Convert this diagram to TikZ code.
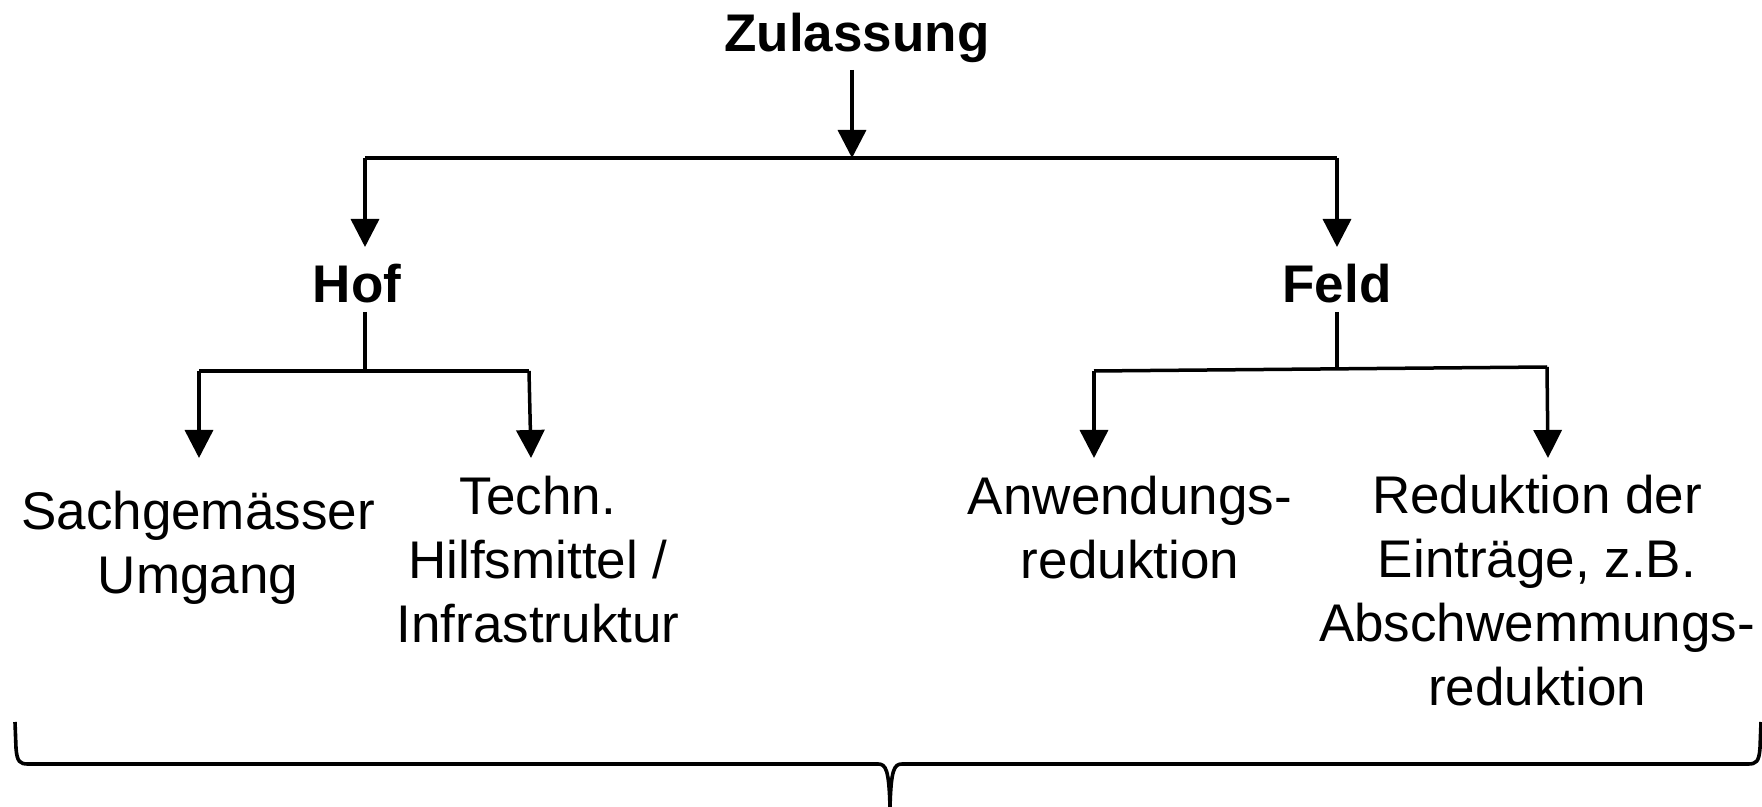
\documentclass[tikz,border=0pt]{standalone}
\usepackage{fontspec}
\setmainfont{Liberation Sans}
\usetikzlibrary{arrows.meta}
\begin{document}
\begin{tikzpicture}[x=0.5pt,y=-0.5pt,
  lbl/.style={anchor=base,inner sep=0pt,align=center,
    font=\fontsize{26.5pt}{32pt}\selectfont},
  head/.style={lbl,font=\fontsize{26.5pt}{32pt}\selectfont\bfseries},
  link/.style={line width=1.75pt},
  arr/.style={link,-{Triangle[width=14pt,length=14pt]}},
  brace/.style={line width=1.8pt,line join=round}]
\useasboundingbox (0,0) rectangle (1762,807);

% labels (base anchor = baseline of the last line)
\node[head] (zul)  at (857,52)  {Zulassung};
\node[head] (hof)  at (357,303) {Hof};
\node[head] (feld) at (1337,303) {Feld};
\node[lbl] (sach) at (198,593) {Sachgemässer\\Umgang};
\node[lbl] (tech) at (538,642) {Techn.\\Hilfsmittel /\\Infrastruktur};
\node[lbl] (anw)  at (1130,578) {Anwendungs-\\reduktion};
\node[lbl] (red)  at (1537,705) {Reduktion der\\Einträge, z.B.\\Abschwemmungs-\\reduktion};

% branch points
\coordinate (zA) at (852,70);
\coordinate (zB) at (852,158);
\coordinate (tL) at (365,158);
\coordinate (tR) at (1337,158);
\coordinate (hofTip) at (365,247);
\coordinate (feldTip) at (1337,247);
\coordinate (hA) at (365,312);
\coordinate (hB) at (365,371);
\coordinate (hL) at (199,371);
\coordinate (hR) at (529,371);
\coordinate (sachTip) at (199,458);
\coordinate (techTip) at (531,458);
\coordinate (fA) at (1337,312);
\coordinate (fB) at (1337,369);
\coordinate (fL) at (1094,371);
\coordinate (fR) at (1547,367);
\coordinate (anwTip) at (1094,458);
\coordinate (redTip) at (1548,458);

% first level
\draw[arr] (zA) -- (zB);
\draw[link] (tL) -- (tR);
\draw[arr] (tL) -- (hofTip);
\draw[arr] (tR) -- (feldTip);

% Hof branch
\draw[link] (hA) -- (hB);
\draw[link] (hL) -- (hR);
\draw[arr] (hL) -- (sachTip);
\draw[arr] (hR) -- (techTip);

% Feld branch
\draw[link] (fA) -- (fB);
\draw[link] (fL) -- (fR);
\draw[arr] (fL) -- (anwTip);
\draw[arr] (fR) -- (redTip);

% brace under all measures
\draw[brace] (15,722) -- (16,748) .. controls (17,762) and (20,764) .. (28,764)
  -- (878,764) .. controls (886,764) and (889,770) .. (890,807);
\draw[brace] (1761,722) -- (1760,748) .. controls (1759,762) and (1756,764) .. (1748,764)
  -- (902,764) .. controls (894,764) and (891,770) .. (890,807);
\end{tikzpicture}
\end{document}
